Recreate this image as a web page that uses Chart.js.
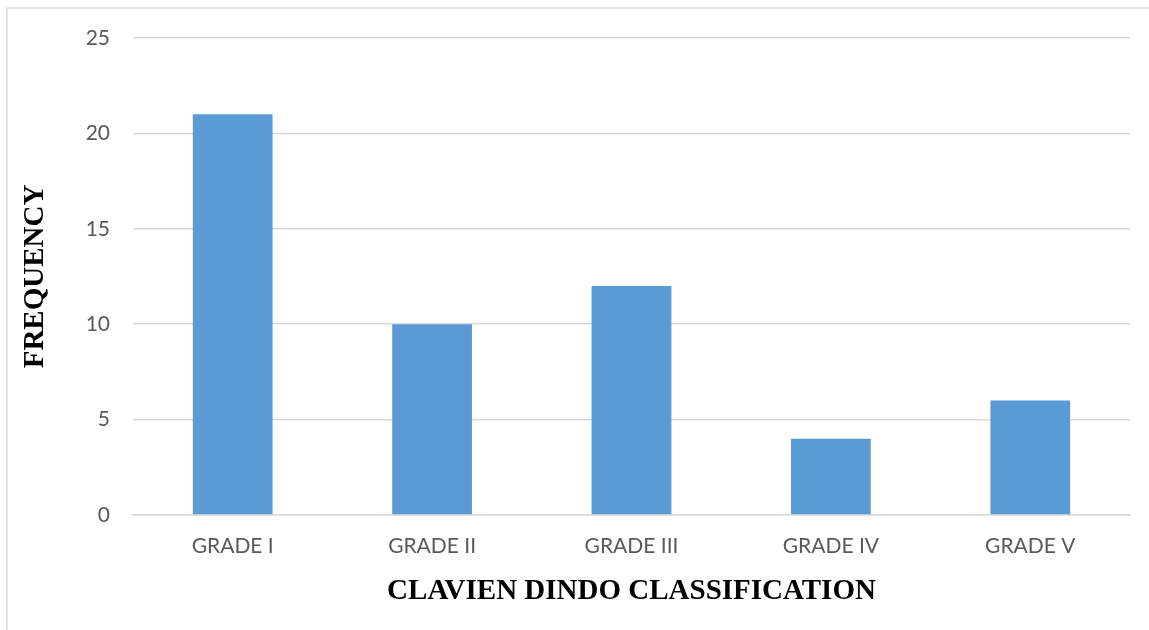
<!DOCTYPE html>
<html>
<head>
<meta charset="utf-8">
<script src="https://cdn.jsdelivr.net/npm/chart.js@4/dist/chart.umd.min.js"></script>
<style>
  html, body { margin: 0; padding: 0; background: #ffffff; }
  #wrap { width: 1149px; height: 630px; position: relative; }
</style>
</head>
<body>
<div id="wrap"><canvas id="c" width="1149" height="630"></canvas></div>
<script>
// Complication grades and how often each occurred
const grades = ['GRADE I', 'GRADE II', 'GRADE III', 'GRADE IV', 'GRADE V'];
const frequency = [21, 10, 12, 4, 6];
const yTicks = [0, 5, 10, 15, 20, 25];

const gridColor = '#d9d9d9';
const tickColor = '#595959';
const barColor = '#5b9bd5';

// Thin frame around the chart canvas
const framePlugin = {
  id: 'frame',
  beforeDraw(chart) {
    const ctx = chart.ctx;
    ctx.save();
    ctx.fillStyle = '#ffffff';
    ctx.fillRect(0, 0, chart.width, chart.height);
    ctx.strokeStyle = gridColor;
    ctx.lineWidth = 1.5;
    ctx.strokeRect(7, 8, chart.width + 20, chart.height + 20);
    ctx.restore();
  }
};

new Chart(document.getElementById('c'), {
  type: 'bar',
  data: {
    labels: grades,
    datasets: [{
      data: frequency,
      backgroundColor: barColor,
      borderWidth: 0,
      categoryPercentage: 0.4,
      barPercentage: 1.0
    }]
  },
  options: {
    responsive: false,
    animation: false,
    layout: { padding: { top: 38, right: 19, bottom: 0, left: 0 } },
    plugins: { legend: { display: false }, tooltip: { enabled: false } },
    scales: {
      x: {
        grid: { display: false, drawTicks: false },
        border: { display: true, color: gridColor, width: 1.5 },
        ticks: { color: tickColor, font: { family: 'Lato', size: 21 }, padding: 19, maxRotation: 0 },
        title: {
          display: true,
          text: 'CLAVIEN DINDO CLASSIFICATION',
          color: '#000000',
          font: { family: 'Liberation Serif', size: 29, weight: 'bold' },
          padding: { top: 0, bottom: 21 }
        },
        afterFit(scale) { scale.height = 115; }
      },
      y: {
        min: 0,
        max: 25,
        afterBuildTicks(scale) { scale.ticks = yTicks.map(v => ({ value: v })); },
        grid: { color: gridColor, lineWidth: 1.5, drawTicks: false },
        border: { display: false },
        ticks: { color: tickColor, font: { family: 'Lato', size: 21 }, padding: 23 },
        title: {
          display: true,
          text: 'FREQUENCY',
          color: '#000000',
          font: { family: 'Liberation Serif', size: 29, weight: 'bold' },
          padding: { top: 18, bottom: 0 }
        },
        afterFit(scale) { scale.width = 133; }
      }
    }
  },
  plugins: [framePlugin]
});
</script>
</body>
</html>
